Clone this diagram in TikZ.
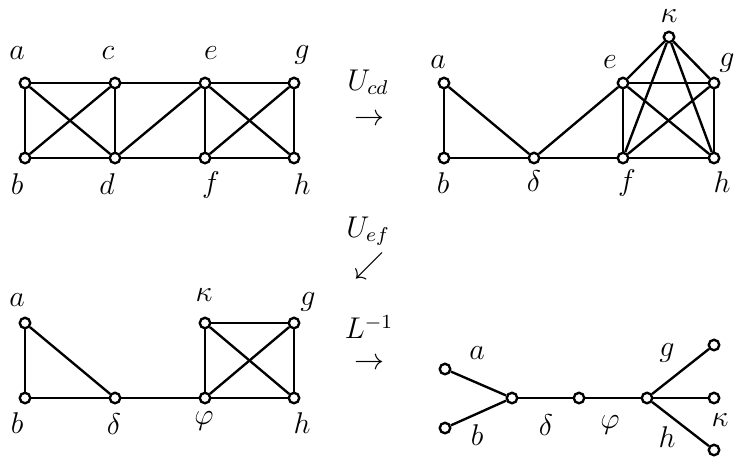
\documentclass[tikz,border=0pt]{standalone}
\begin{document}
\begin{tikzpicture}[x=0.4pt, y=-0.4pt, font=\large,
    vert/.style={circle, draw, fill=white, line width=0.95pt, minimum size=4.2pt, inner sep=0pt},
    edge/.style={line width=0.95pt},
    map/.style={inner sep=0pt}]
\useasboundingbox (0,0) rectangle (747,463);
% first graph
\foreach \n/\x/\y in {a/25/83, c/115/83, e/205/83, g/294/83, b/25/158, d/115/158, f/205/158, h/294/158}
    \node[vert] (\n1) at (\x,\y) {};
\foreach \n/\x/\y in {a/17/53, c/108/53, e/211/53, g/302/55, b/17/184, d/107/184, f/211/185, h/302/184}
    \node (l\n1) at (\x,\y) {$\n$};
\foreach \u/\v in {a/c, c/e, e/g, b/d, d/f, f/h, a/b, c/d, e/f, g/h, a/d, b/c, d/e, e/h, f/g}
    \draw[edge] (\u1) -- (\v1);
% second graph
\foreach \n/\x/\y in {a/444/83, b/444/158, dl/534/158, e/623/83, f/623/158, g/714/83, h/714/158, k/669/37}
    \node[vert] (\n2) at (\x,\y) {};
\foreach \n/\t/\x/\y in {a/a/438/62, b/b/443/183, dl/\delta/534/181, e/e/610/62, f/f/627/183, g/g/727/63, h/h/722/182, k/\kappa/669/16}
    \node (l\n2) at (\x,\y) {$\t$};
\foreach \u/\v in {a/b, a/dl, b/dl, dl/e, dl/f, e/f, e/g, f/h, g/h, e/h, f/g, k/e, k/g, k/f, k/h}
    \draw[edge] (\u2) -- (\v2);
% third graph
\foreach \n/\x/\y in {a/25/323, b/25/398, dl/115/398, ph/205/398, k/205/323, g/294/323, h/294/398}
    \node[vert] (\n3) at (\x,\y) {};
\foreach \n/\t/\x/\y in {a/a/17/300, b/b/17/423, dl/\delta/114/424, ph/\varphi/204/421, k/\kappa/204/295, g/g/308/302, h/h/302/423}
    \node (l\n3) at (\x,\y) {$\t$};
\foreach \u/\v in {a/b, a/dl, b/dl, dl/ph, k/ph, k/g, g/h, ph/h, k/h, ph/g}
    \draw[edge] (\u3) -- (\v3);
% tree
\foreach \n/\x/\y in {a/445/369, b/445/428, m/512/398, n/579/398, p/647/398, g/714/345, k/714/398, h/714/450}
    \node[vert] (\n4) at (\x,\y) {};
\foreach \n/\t/\x/\y in {a/a/477/353, b/b/477/435, dl/\delta/546/425, ph/\varphi/610/425, g/g/667/353, k/\kappa/720/420, h/h/667/437}
    \node (l\n4) at (\x,\y) {$\t$};
\foreach \u/\v in {a/m, b/m, m/n, n/p, p/g, p/k, p/h}
    \draw[edge] (\u4) -- (\v4);
% maps
\node[map] (ucd) at (368,82) {$U_{cd}$};
\node[map] (arrcd) at (369,120) {$\rightarrow$};
\node[map] (uef) at (368,231) {$U_{ef}$};
\node[map] (arref) at (369,266) {$\swarrow$};
\node[map] (linv) at (369,327) {$L^{-1}$};
\node[map] (arrl) at (369,364) {$\rightarrow$};
\end{tikzpicture}
\end{document}
